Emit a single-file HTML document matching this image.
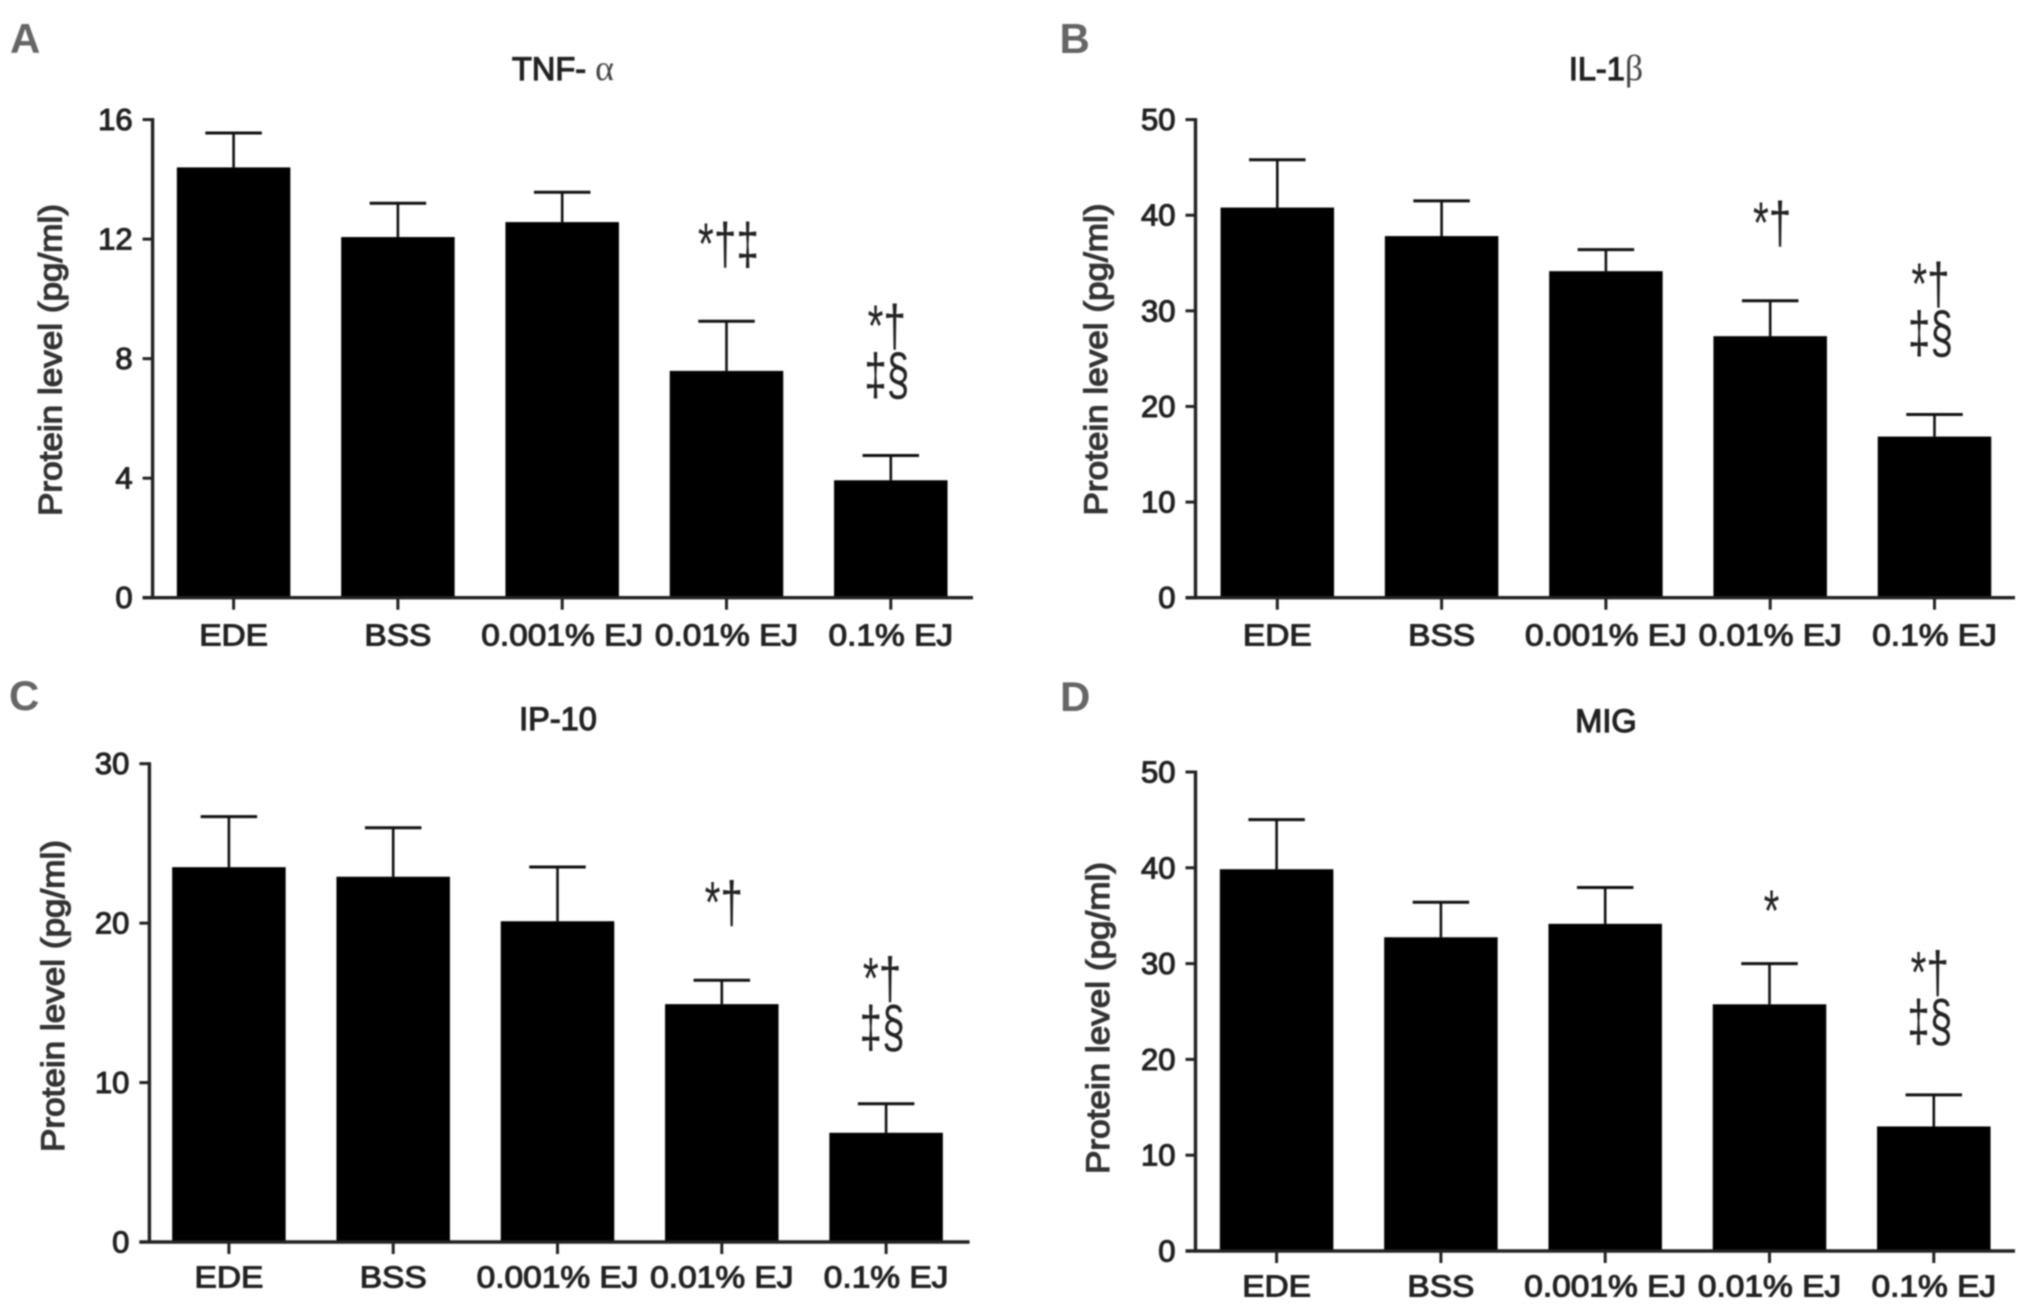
<!DOCTYPE html>
<html lang="en">
<head>
<meta charset="utf-8">
<title>Protein levels by treatment</title>
<style>
html,body{margin:0;padding:0;background:#fff;}
body{width:2031px;height:1314px;overflow:hidden;}
svg{display:block;filter:blur(0.8px);}
text{font-family:"Liberation Sans",sans-serif;}
</style>
</head>
<body>
<svg id="figure" width="2031" height="1314" viewBox="0 0 2031 1314" xmlns="http://www.w3.org/2000/svg"></svg>
<script>
const categories = ["EDE", "BSS", "0.001% EJ", "0.01% EJ", "0.1% EJ"];

const tnfValues = [14.4, 12.07, 12.57, 7.59, 3.93];
const tnfErrors = [1.15, 1.13, 1.0, 1.66, 0.83];
const tnfTicks = [0, 4, 8, 12, 16];
const tnfMarks = ["", "", "", "*†‡", "*†|‡§"];
const tnfMarkLevels = [0, 0, 0, 11.1, 8.36];

const ilValues = [40.8, 37.82, 34.15, 27.35, 16.85];
const ilErrors = [5.0, 3.68, 2.25, 3.71, 2.31];
const ilTicks = [0, 10, 20, 30, 40, 50];
const ilMarks = ["", "", "", "*†", "*†|‡§"];
const ilMarkLevels = [0, 0, 0, 36.9, 30.5];

const ipValues = [23.51, 22.91, 20.12, 14.92, 6.85];
const ipErrors = [3.17, 3.07, 3.4, 1.5, 1.82];
const ipTicks = [0, 10, 20, 30];
const ipMarks = ["", "", "", "*†", "*†|‡§"];
const ipMarkLevels = [0, 0, 0, 19.9, 15.14];

const migValues = [39.85, 32.75, 34.15, 25.75, 13.0];
const migErrors = [5.18, 3.65, 3.8, 4.25, 3.3];
const migTicks = [0, 10, 20, 30, 40, 50];
const migMarks = ["", "", "", "*", "*†|‡§"];
const migMarkLevels = [0, 0, 0, 33.2, 26.8];

const panels = [
  {id:"a", letter:"A", title:"TNF- ", greek:"α", values:tnfValues, errors:tnfErrors, ticks:tnfTicks, marks:tnfMarks, levels:tnfMarkLevels,
   axisX:152.6, top:119.6, bottom:597.7, firstCenter:233.6, step:164.3, endX:973, letterX:10, letterY:53, titleX:563, titleY:80, labelX:61.7, labelY:360, xLabelOffset:48},
  {id:"b", letter:"B", title:"IL-1", greek:"β", values:ilValues, errors:ilErrors, ticks:ilTicks, marks:ilMarks, levels:ilMarkLevels,
   axisX:1195.5, top:119.6, bottom:597.7, firstCenter:1277.3, step:164.3, endX:2015, letterX:1059.5, letterY:53, titleX:1606, titleY:80, labelX:1107, labelY:359.5, xLabelOffset:48},
  {id:"c", letter:"C", title:"IP-10", greek:"", values:ipValues, errors:ipErrors, ticks:ipTicks, marks:ipMarks, levels:ipMarkLevels,
   axisX:149.4, top:763.7, bottom:1242, firstCenter:228.9, step:164.3, endX:969.6, letterX:9, letterY:710, titleX:558, titleY:730, labelX:64, labelY:996, xLabelOffset:45.5},
  {id:"d", letter:"D", title:"MIG", greek:"", values:migValues, errors:migErrors, ticks:migTicks, marks:migMarks, levels:migMarkLevels,
   axisX:1195.5, top:772, bottom:1251, firstCenter:1276.6, step:164.3, endX:2015, letterX:1060, letterY:711, titleX:1606, titleY:732, labelX:1109, labelY:1018, xLabelOffset:45.5}
];

const SVG_NS = "http://www.w3.org/2000/svg";
const figure = document.getElementById("figure");

function make(tag, attrs, parent, text) {
  const el = document.createElementNS(SVG_NS, tag);
  for (const k in attrs) el.setAttribute(k, attrs[k]);
  if (text !== undefined) el.textContent = text;
  parent.appendChild(el);
  return el;
}

panels.forEach(function (p) {
  const maxTick = Math.max.apply(null, p.ticks);
  const yScale = function (v) { return p.bottom - (v / maxTick) * (p.bottom - p.top); };
  const xScale = function (i) { return p.firstCenter + i * p.step; };
  const barWidth = 113.5;
  const capWidth = 56.5;

  const g = make("g", {}, figure);
  
  

  const letter = make("text", {x:p.letterX, y:p.letterY, "font-size":42, "font-weight":"bold", fill:"#666"}, g, p.letter);
  
  

  const title = make("text", {x:p.titleX, y:p.titleY, "font-size":32.5, fill:"#222", stroke:"#222", "stroke-width":1.2, "text-anchor":"middle"}, g, p.title);
  
  
  if (p.greek) {
    const greek = make("tspan", {"font-family":"Liberation Serif, serif", "font-size":36, fill:"#444", stroke:"none"}, title, p.greek);
    
    
  }

  const yTitle = make("text", {transform:"translate(" + p.labelX + "," + p.labelY + ") rotate(-90)", "font-size":32, fill:"#333", stroke:"#333", "stroke-width":1.2, "text-anchor":"middle", textLength:312, lengthAdjust:"spacingAndGlyphs"}, g, "Protein level (pg/ml)");
  
  

  p.values.forEach(function (v, i) {
    const cx = xScale(i);
    const topY = yScale(v);
    const errY = yScale(v + p.errors[i]);

    const stem = make("line", {x1:cx, x2:cx, y1:topY, y2:errY, stroke:"#111", "stroke-width":2.6}, g);
    
    

    const cap = make("line", {x1:cx - capWidth / 2, x2:cx + capWidth / 2, y1:errY, y2:errY, stroke:"#111", "stroke-width":3}, g);
    
    

    const bar = make("rect", {x:cx - barWidth / 2, y:topY, width:barWidth, height:p.bottom - topY, fill:"#000"}, g);
    
    

    const xTick = make("line", {x1:cx, x2:cx, y1:p.bottom, y2:p.bottom + 12, stroke:"#222", "stroke-width":3}, g);
    
    

    const xLabel = make("text", {transform:"translate(" + cx + "," + (p.bottom + p.xLabelOffset) + ") scale(1.08,1)", "font-size":31, fill:"#222", stroke:"#222", "stroke-width":1.1, "text-anchor":"middle"}, g, categories[i]);
    
    

    if (p.marks[i]) {
      const lines = p.marks[i].split("|");
      lines.forEach(function (line, n) {
        const base = yScale(p.levels[i]) - 2 + n * 48.5;
        const mx = cx + (lines.length > 1 ? -4 : 2);
        const mark = make("text", {transform:"translate(" + mx + "," + base + ") scale(0.7,1)", "font-size":58, fill:"#222", "text-anchor":"middle"}, g, line);
        
        
      });
    }
  });

  const yAxis = make("line", {x1:p.axisX, x2:p.axisX, y1:p.top - 1.5, y2:p.bottom + 1.5, stroke:"#222", "stroke-width":3.4}, g);
  
  

  const xAxis = make("line", {x1:p.axisX - 10, x2:p.endX, y1:p.bottom, y2:p.bottom, stroke:"#222", "stroke-width":3.4}, g);
  
  

  p.ticks.forEach(function (t) {
    const ty = yScale(t);
    const tick = make("line", {x1:p.axisX - 10, x2:p.axisX, y1:ty, y2:ty, stroke:"#222", "stroke-width":3}, g);
    
    

    const tickLabel = make("text", {x:p.axisX - 20, y:ty + 10.5, "font-size":31, fill:"#222", stroke:"#222", "stroke-width":1.1, "text-anchor":"end"}, g, String(t));
    
    
  });
});
</script>
</body>
</html>
